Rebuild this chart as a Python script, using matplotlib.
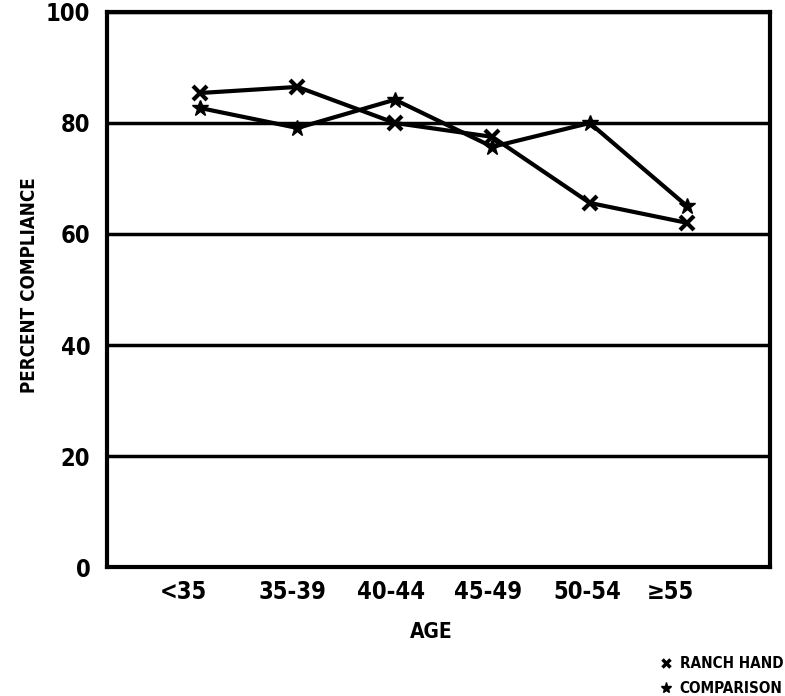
import matplotlib.pyplot as plt
from matplotlib.lines import Line2D

# Data
age_groups = ['<35', '35-39', '40-44', '45-49', '50-54', '\u226555']
ranch_hand = [85.4, 86.5, 80.0, 77.5, 65.6, 62.0]
comparison = [82.7, 79.1, 84.2, 75.7, 80.0, 65.0]
y_ticks = [0, 20, 40, 60, 80, 100]

font = ['Liberation Sans Narrow', 'DejaVu Sans']
plt.rcParams['font.family'] = font
plt.rcParams['font.weight'] = 'bold'
plt.rcParams['font.stretch'] = 'condensed'

fig = plt.figure(figsize=(7.85, 6.96), dpi=100)
ax = fig.add_axes([0.1363, 0.1853, 0.8446, 0.7975])

x = list(range(len(age_groups)))
ax.plot(x, ranch_hand, color='black', lw=3, marker='x', ms=10, mew=3)
ax.plot(x, comparison, color='black', lw=3, marker='*', ms=12)

ax.set_xlim(-0.955, 5.85)
ax.set_ylim(0, 100)

# horizontal rules at each tick
for v in y_ticks:
    ax.axhline(v, color='black', lw=2.5, zorder=0)

for s in ax.spines.values():
    s.set_linewidth(3)
    s.set_color('black')

ax.set_yticks(y_ticks)
ax.set_yticklabels([str(v) for v in y_ticks], fontsize=17, fontweight='bold')
ax.set_xticks([-0.17, 0.95, 1.96, 2.96, 3.97, 4.83])
ax.set_xticklabels(age_groups, fontsize=17, fontweight='bold')
ax.tick_params(axis='both', length=0)
ax.tick_params(axis='y', pad=12)
ax.tick_params(axis='x', pad=9)

fig.text(0.038, 0.59, 'PERCENT COMPLIANCE', rotation=90, ha='center',
         va='center', fontsize=13.5, fontweight='bold')
fig.text(0.549, 0.092, 'AGE', ha='center', va='center', fontsize=15,
         fontweight='bold')

handles = [Line2D([], [], color='black', ls='none', marker='x', ms=6, mew=2.5),
           Line2D([], [], color='black', ls='none', marker='*', ms=8)]
fig.legend(handles, ['RANCH HAND', 'COMPARISON'], loc='lower right',
           bbox_to_anchor=(0.998, 0.0), frameon=False, handlelength=0.6,
           handletextpad=0.6, labelspacing=0.65, borderaxespad=0,
           borderpad=0, prop={'family': font, 'weight': 'bold', 'size': 11,
                              'stretch': 'condensed'})

fig.savefig('out.png', dpi=100)
